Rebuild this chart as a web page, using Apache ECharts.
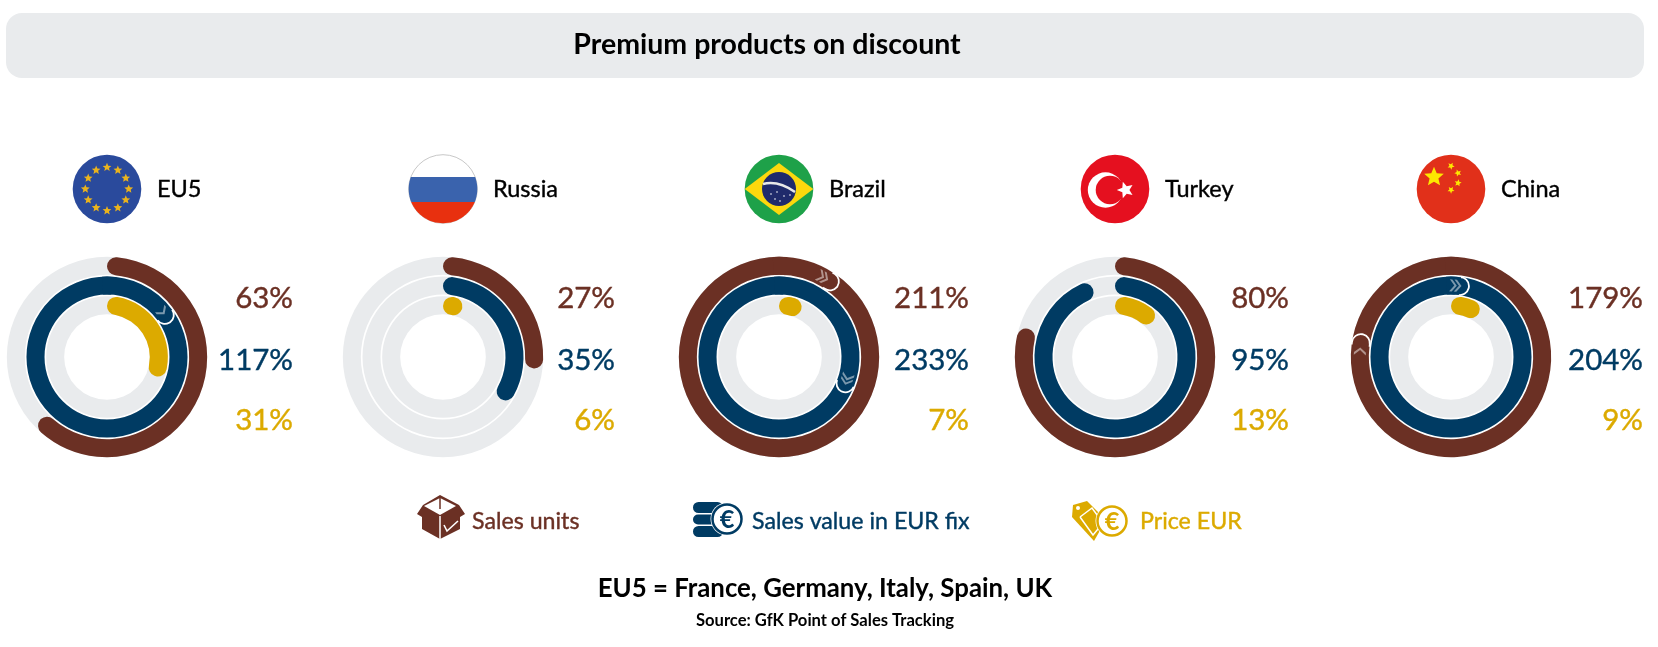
<!DOCTYPE html>
<html>

<head>
    <meta charset="utf-8">
    <title>Premium products on discount</title>
    <script src="https://cdn.jsdelivr.net/npm/echarts@6/dist/echarts.min.js"></script>
    <style>
        body { margin: 0; background: #fff; }
    </style>
</head>

<body>
    <div id="main" style="width: 1658px;height:647px;"></div>
    <script type="text/javascript">
        var countries = ['EU5', 'Russia', 'Brazil', 'Turkey', 'China'];
        var ringNames = ['Price EUR', 'Sales value in EUR fix', 'Sales units'];
        var salesUnits = [63, 27, 211, 80, 179];
        var salesValue = [117, 35, 233, 95, 204];
        var priceEur = [31, 6, 7, 13, 9];

        var BROWN = '#6b3024', NAVY = '#003b63', GOLD = '#dcaa00', TRACK = '#e9ebed';
        var ringColors = [GOLD, NAVY, BROWN];
        var FONT = 'Lato, "Noto Sans", sans-serif';

        var centerX = [107, 443, 779, 1115, 1451];
        var centerY = 357;
        var flagY = 189;
        var pctRight = [293, 615, 969, 1289, 1643];

        var CHEVRON = 'M0,0L2.6,0L7.6,6L2.6,12L0,12L5,6Z';
        var CHEVRON2 = CHEVRON + 'M4.8,0L7.4,0L12.4,6L7.4,12L4.8,12L9.8,6Z';

        var myChart = echarts.init(document.getElementById('main'));

        var polar = [], radiusAxis = [], angleAxis = [], series = [];

        // bars sharing a polar split the band width, so every layer gets its own polar
        function addLayer(x, startAngle) {
            var idx = polar.length;
            polar.push({ center: [x, centerY], radius: [42, 101] });
            radiusAxis.push({ polarIndex: idx, type: 'category', data: ringNames, show: false });
            angleAxis.push({ polarIndex: idx, type: 'value', min: 0, max: 100, startAngle: startAngle, show: false });
            return idx;
        }
        function ringColor(p) { return ringColors[p.dataIndex]; }

        countries.forEach(function (name, i) {
            var vals = [priceEur[i], salesValue[i], salesUnits[i]];
            var base = addLayer(centerX[i], 90);
            var common = { type: 'bar', coordinateSystem: 'polar', barWidth: 18, silent: true, animation: false };
            // first lap on the grey track
            series.push(Object.assign({}, common, {
                name: name,
                polarIndex: base,
                showBackground: true,
                backgroundStyle: { color: TRACK },
                itemStyle: { color: ringColor, borderRadius: 10 },
                data: vals.map(function (v) { return Math.min(v, 100); })
            }));
            // second or third lap, cap outlined in white
            series.push(Object.assign({}, common, {
                polarIndex: addLayer(centerX[i], 90),
                itemStyle: { color: ringColor, borderRadius: 10, borderColor: '#fff', borderWidth: 1.8 },
                data: vals.map(function (v) { return v > 100 ? v % 100 : '-'; })
            }));
            // leaves the outline only at the end cap, starts one unit (3.6 deg) early
            series.push(Object.assign({}, common, {
                polarIndex: addLayer(centerX[i], 93.6),
                itemStyle: { color: ringColor },
                data: vals.map(function (v) { return v > 100 ? v % 100 - 1 : '-'; })
            }));
            // chevrons near the cap, one per lap over the first
            var marks = [];
            vals.forEach(function (v, k) {
                if (v > 100) marks.push({ value: [k, v % 100 - 3], laps: Math.floor(v / 100) });
            });
            series.push({
                type: 'scatter', coordinateSystem: 'polar', polarIndex: base, silent: true, animation: false, z: 5,
                symbolKeepAspect: false,
                itemStyle: { color: 'rgba(255,255,255,0.6)' },
                data: marks.map(function (m) {
                    return {
                        value: m.value,
                        symbol: 'path://' + (m.laps > 1 ? CHEVRON2 : CHEVRON),
                        symbolSize: m.laps > 1 ? [12, 12] : [7.6, 12],
                        symbolRotate: -m.value[1] * 3.6
                    };
                })
            });
        });

        function starPoints(cx, cy, r, rot) {
            var pts = [];
            for (var k = 0; k < 10; k++) {
                var a = (rot || 0) + k * Math.PI / 5 - Math.PI / 2;
                var rr = k % 2 ? r * 0.45 : r;
                pts.push([cx + rr * Math.cos(a), cy + rr * Math.sin(a)]);
            }
            return pts;
        }
        function star(cx, cy, r, fill, rot) {
            return { type: 'polygon', shape: { points: starPoints(cx, cy, r, rot) }, style: { fill: fill } };
        }
        function circle(cx, cy, r, style) {
            return { type: 'circle', shape: { cx: cx, cy: cy, r: r }, style: style };
        }
        function poly(points, fill) {
            return { type: 'polygon', shape: { points: points }, style: { fill: fill } };
        }
        function stroke(points, color, w) {
            return { type: 'polyline', shape: { points: points }, style: { stroke: color, lineWidth: w, fill: null } };
        }
        function text(str, x, y, size, color, align, weight) {
            var style = {
                text: str, fill: color, font: (weight || 'normal') + ' ' + size + 'px ' + FONT,
                align: align, verticalAlign: 'middle', textAlign: align, textVerticalAlign: 'middle'
            };
            // Lato has no medium here, thicken the regular a little
            if (!weight) { style.stroke = color; style.lineWidth = 0.4; }
            return { type: 'text', x: x, y: y, style: style };
        }
        // part of a disc between two heights
        function band(cx, cy, r, y0, y1, fill) {
            var pts = [];
            for (var k = 0; k <= 24; k++) {
                var y = y0 + (y1 - y0) * k / 24;
                pts.push([cx + Math.sqrt(r * r - y * y), cy + y]);
            }
            for (k = 24; k >= 0; k--) {
                y = y0 + (y1 - y0) * k / 24;
                pts.push([cx - Math.sqrt(r * r - y * y), cy + y]);
            }
            return poly(pts, fill);
        }

        var FLAG_R = 34.3;
        var flags = {
            EU5: function (x, y) {
                var out = [circle(x, y, FLAG_R, { fill: '#2a4a9c' })];
                for (var k = 0; k < 12; k++) {
                    var a = k * Math.PI / 6;
                    out.push(star(x + 21.7 * Math.sin(a), y - 21.7 * Math.cos(a), 4.6, '#eab31d'));
                }
                return out;
            },
            Russia: function (x, y) {
                return [
                    circle(x, y, FLAG_R, { fill: '#fff', stroke: '#c8c8c8', lineWidth: 1 }),
                    band(x, y, FLAG_R, -12, 13, '#3a63ad'),
                    band(x, y, FLAG_R, 13, FLAG_R, '#e8300f')
                ];
            },
            Brazil: function (x, y) {
                return [
                    circle(x, y, FLAG_R, { fill: '#1ea149' }),
                    poly([[x - FLAG_R, y], [x, y - 26], [x + FLAG_R, y], [x, y + 26]], '#fcd80d'),
                    circle(x, y, 17, { fill: '#1f2a6b' }),
                    { type: 'bezierCurve', shape: { x1: x - 16, y1: y - 5, cpx1: x - 1, cpy1: y - 9, x2: x + 16, y2: y + 3 },
                        style: { stroke: '#e8e8e8', lineWidth: 2.4, fill: null } },
                    circle(x - 8, y + 5, 0.8, { fill: '#fff' }), circle(x - 2, y + 3, 0.8, { fill: '#fff' }),
                    circle(x + 5, y + 7, 0.8, { fill: '#fff' }), circle(x - 4, y + 10, 0.8, { fill: '#fff' }),
                    circle(x + 1, y + 12, 0.8, { fill: '#fff' }), circle(x + 11, y + 6, 0.8, { fill: '#fff' })
                ];
            },
            Turkey: function (x, y) {
                return [
                    circle(x, y, FLAG_R, { fill: '#e5101f' }),
                    circle(x - 9.5, y + 1, 17.7, { fill: '#fff' }),
                    circle(x - 5, y + 1, 14.3, { fill: '#e5101f' }),
                    star(x + 10.5, y + 1, 8.7, '#fff', -Math.PI / 2)
                ];
            },
            China: function (x, y) {
                return [
                    circle(x, y, FLAG_R, { fill: '#e1301a' }),
                    star(x - 17, y - 12, 10.3, '#fde800'),
                    star(x, y - 23, 3.7, '#fde800', 0.5), star(x + 7, y - 16, 3.7, '#fde800', 0.9),
                    star(x + 7, y - 6, 3.7, '#fde800', 0.2), star(x, y + 1, 3.7, '#fde800', 0.6)
                ];
            }
        };

        function euroBadge(x, y, r, color) {
            return [
                circle(x, y, r + 2, { fill: '#fff' }),
                circle(x, y, r, { fill: '#fff', stroke: color, lineWidth: 2.5 }),
                text('€', x, y + 1, r * 1.75, color, 'center', 'bold')
            ];
        }

        var boxIcon = (function (x, y) {
            function at(list) { return list.map(function (p) { return [x + p[0], y + p[1]]; }); }
            return [
                poly(at([[-1, -22], [18, -12], [24, -3], [19, 0], [19, 12], [-1, 22], [-19, 12], [-19, 0], [-24, -3], [-18, -12]]), BROWN),
                poly(at([[-1, -19], [15, -11], [-1, -2], [-17, -11]]), '#fff'),
                stroke(at([[-1, -20], [-1, -8]]), BROWN, 1.5),
                stroke(at([[-1, -1], [-1, 22]]), '#fff', 1.5),
                stroke(at([[3, 8], [6, 14], [17, 4]]), '#fff', 1.6)
            ];
        })(441, 517);

        var coinIcon = [
            { type: 'rect', shape: { x: 693, y: 502, width: 30, height: 11, r: 5.5 }, style: { fill: NAVY } },
            { type: 'rect', shape: { x: 693, y: 514.5, width: 30, height: 10, r: 5 }, style: { fill: NAVY } },
            { type: 'rect', shape: { x: 693, y: 526, width: 30, height: 11, r: 5.5 }, style: { fill: NAVY } }
        ].concat(euroBadge(727, 519, 14.5, NAVY));

        var tagIcon = [
            poly([[1073, 505], [1087, 501], [1106, 520], [1094, 541], [1072, 517]], GOLD),
            circle(1078, 508, 2, { fill: '#fff' }),
            stroke([[1080, 517], [1092, 508], [1103, 523], [1093, 535], [1080, 517]], '#fff', 1.5)
        ].concat(euroBadge(1112, 521, 14.5, GOLD));

        var graphics = [
            { type: 'rect', shape: { x: 6, y: 13, width: 1638, height: 65, r: 16 }, style: { fill: TRACK } },
            text('Premium products on discount', 767, 44.5, 28.5, '#000', 'center', 'bold')
        ];
        countries.forEach(function (name, i) {
            graphics = graphics.concat(flags[name](centerX[i], flagY));
            graphics.push(text(name, centerX[i] + 50, 189, 23.5, '#000', 'left'));
            graphics.push(text(salesUnits[i] + '%', pctRight[i], 298, 29.5, BROWN, 'right'));
            graphics.push(text(salesValue[i] + '%', pctRight[i], 360, 29.5, NAVY, 'right'));
            graphics.push(text(priceEur[i] + '%', pctRight[i], 420, 29.5, GOLD, 'right'));
        });
        graphics = graphics.concat(boxIcon, coinIcon, tagIcon);
        graphics.push(text(ringNames[2], 472, 522, 23.2, BROWN, 'left'));
        graphics.push(text(ringNames[1], 752, 522, 23.2, NAVY, 'left'));
        graphics.push(text(ringNames[0], 1140, 522, 23.2, GOLD, 'left'));
        graphics.push(text('EU5 = France, Germany, Italy, Spain, UK', 825, 589, 25.8, '#000', 'center', 'bold'));
        graphics.push(text('Source: GfK Point of Sales Tracking', 825, 621, 16.6, '#000', 'center', 'bold'));

        var option = {
            backgroundColor: '#fff',
            animation: false,
            polar: polar,
            radiusAxis: radiusAxis,
            angleAxis: angleAxis,
            graphic: { elements: graphics.map(function (g) { g.silent = true; return g; }) },
            series: series
        };
        myChart.setOption(option);
    </script>
</body>

</html>
